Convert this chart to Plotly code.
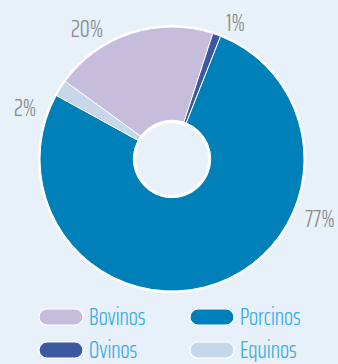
import plotly.graph_objects as go

# Livestock composition (share of head count, %)
categories = ["Bovinos", "Ovinos", "Porcinos", "Equinos"]
shares = [20, 1, 77, 2]
colors = ["#c6bcdb", "#3b58a0", "#0080b8", "#c5d7e9"]

# Legend layout order (two columns, two rows)
legend_order = ["Bovinos", "Porcinos", "Ovinos", "Equinos"]

W, H = 338, 364
BG = "#e8f0f9"
LABEL_FONT = "Saira ExtraCondensed, Sofia Sans Extra Condensed, Roboto Condensed, Liberation Sans Narrow, sans-serif"

cx, cy, r = 172, 159, 132       # pie centre and radius in pixels
hole_r = 38.7


def px_x(x):
    return x / W


def px_y(y):
    return 1 - y / H


fig = go.Figure()

# white backing disc: gives the outer rim and the ring around the hole
rb = r + 2
fig.add_trace(go.Pie(
    values=[1], labels=["rim"], marker=dict(colors=["white"]),
    hole=(hole_r - 2.6) / rb, sort=False, textinfo="none", hoverinfo="skip",
    showlegend=False,
    domain=dict(x=[px_x(cx - rb), px_x(cx + rb)], y=[px_y(cy + rb), px_y(cy - rb)]),
))

fig.add_trace(go.Pie(
    labels=categories, values=shares, sort=False, direction="clockwise",
    rotation=-54, hole=hole_r / r,
    marker=dict(colors=colors, line=dict(color="white", width=1)),
    textinfo="none", showlegend=False,
    domain=dict(x=[px_x(cx - r), px_x(cx + r)], y=[px_y(cy + r), px_y(cy - r)]),
))

# percentage labels around the ring
label_pos = {"Bovinos": (87, 28), "Ovinos": (235, 22), "Porcinos": (320, 218), "Equinos": (25, 107)}
for cat, val in zip(categories, shares):
    lx, ly = label_pos[cat]
    fig.add_annotation(
        x=px_x(lx), y=px_y(ly), xref="paper", yref="paper",
        text=f"{val}%", showarrow=False, xanchor="center", yanchor="middle",
        height=24,
        font=dict(family=LABEL_FONT, size=25, weight=300, color="#8a8a8a"),
    )


def pill_path(x0, y0, x1, y1):
    """Rounded (pill) rectangle in paper coordinates, given pixel bounds."""
    rr = (y1 - y0) / 2
    k = 0.5523 * rr
    pts = [
        ("M", [(x0 + rr, y0)]),
        ("L", [(x1 - rr, y0)]),
        ("C", [(x1 - rr + k, y0), (x1, y0 + rr - k), (x1, y0 + rr)]),
        ("C", [(x1, y0 + rr + k), (x1 - rr + k, y1), (x1 - rr, y1)]),
        ("L", [(x0 + rr, y1)]),
        ("C", [(x0 + rr - k, y1), (x0, y0 + rr + k), (x0, y0 + rr)]),
        ("C", [(x0, y0 + rr - k), (x0 + rr - k, y0), (x0 + rr, y0)]),
    ]
    out = []
    for cmd, coords in pts:
        out.append(cmd + " ".join(f"{px_x(a):.5f},{px_y(b):.5f}" for a, b in coords))
    return " ".join(out) + " Z"


# legend: pill swatches with category names
col_x = [39, 190]
row_y = [317, 350]
sw_w, sw_h = 44, 16
color_of = dict(zip(categories, colors))
for i, cat in enumerate(legend_order):
    x0 = col_x[i % 2]
    yc = row_y[i // 2]
    fig.add_shape(
        type="path", xref="paper", yref="paper",
        path=pill_path(x0, yc - sw_h / 2, x0 + sw_w, yc + sw_h / 2),
        fillcolor=color_of[cat], line=dict(color="white", width=1.2),
    )
    fig.add_annotation(
        x=px_x(x0 + sw_w + 4), y=px_y(yc), xref="paper", yref="paper",
        text=cat, showarrow=False, xanchor="left", yanchor="middle",
        height=24,
        font=dict(family=LABEL_FONT, size=24, weight=300, color="#3aaee0"),
    )

fig.update_layout(
    width=W, height=H,
    margin=dict(l=0, r=0, t=0, b=0),
    paper_bgcolor=BG, plot_bgcolor=BG,
    showlegend=False,
)

fig.write_html("out.html")
